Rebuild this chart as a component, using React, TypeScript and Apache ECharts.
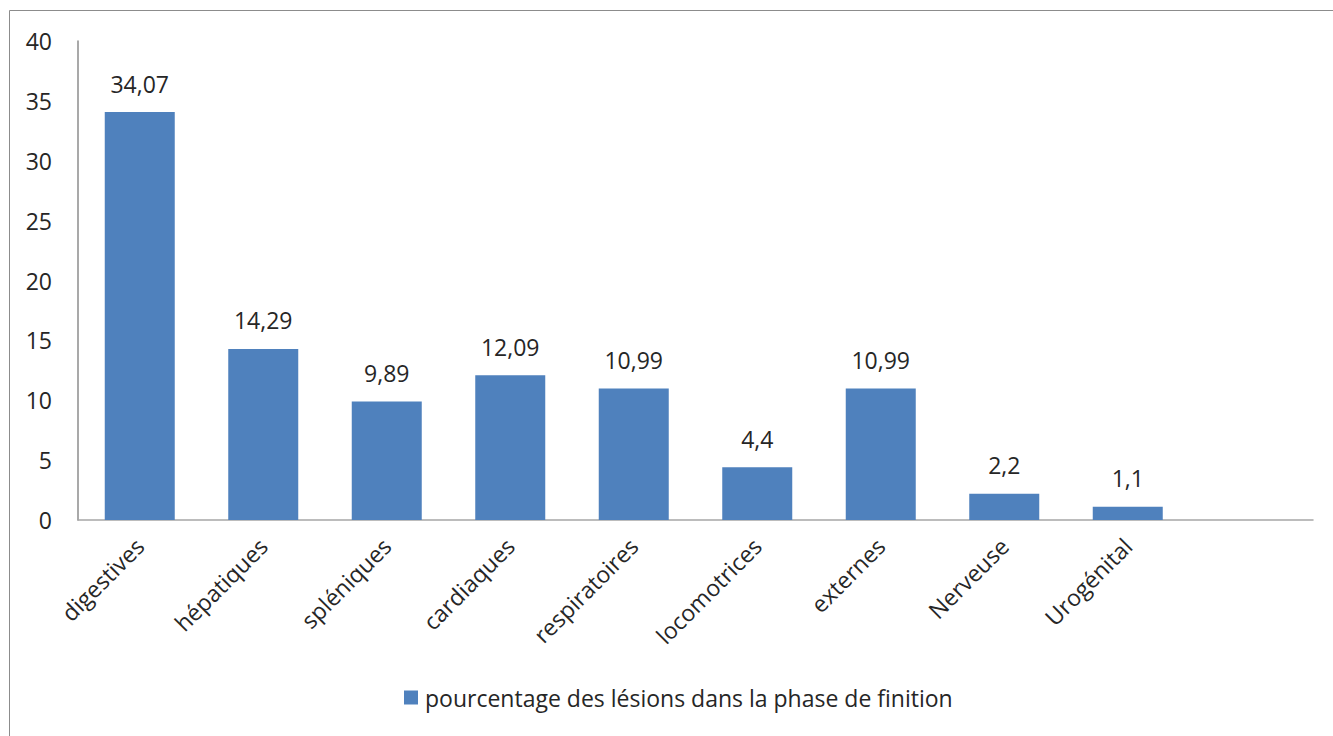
import React, { useEffect, useRef } from "react";
import * as echarts from "echarts";

const categories = [
  "digestives",
  "hépatiques",
  "spléniques",
  "cardiaques",
  "respiratoires",
  "locomotrices",
  "externes",
  "Nerveuse",
  "Urogénital",
  "",
];
const values: (number | null)[] = [34.07, 14.29, 9.89, 12.09, 10.99, 4.4, 10.99, 2.2, 1.1, null];
const seriesName = "pourcentage des lésions dans la phase de finition";
const yMin = 0;
const yMax = 40;
const yInterval = 5;

export default function App() {
  const ref = useRef<HTMLDivElement>(null);
  useEffect(() => {
    if (!ref.current) return;
    const chart = echarts.init(ref.current, null, { renderer: "svg" });
    const font = "'Open Sans', sans-serif";
    const textColor = "#262626";
    const fs = 23;
    chart.setOption({
      animation: false,
      backgroundColor: "#ffffff",
      textStyle: { fontFamily: font },
      graphic: [
        {
          type: "rect",
          shape: { x: 9.5, y: 10.5, width: 1400, height: 800 },
          style: { fill: "none", stroke: "#8c8c8c", lineWidth: 1 },
          silent: true,
        },
      ],
      grid: { left: 78, right: 20, top: 41, bottom: 216, containLabel: false },
      legend: {
        left: 404,
        top: 686,
        padding: 0,
        itemWidth: 14,
        itemHeight: 14,
        itemGap: 6,
        icon: "rect",
        textStyle: { fontFamily: font, fontSize: fs, color: textColor, padding: [0, 0, 0, 2] },
        data: [seriesName],
      },
      xAxis: {
        type: "category",
        data: categories,
        axisLine: { show: true, lineStyle: { color: "#a6a6a6", width: 1.5 } },
        axisTick: { show: false },
        axisLabel: {
          rotate: 45,
          interval: 0,
          margin: 22,
          fontFamily: font,
          fontSize: fs,
          color: textColor,
        },
      },
      yAxis: {
        type: "value",
        min: yMin,
        max: yMax,
        interval: yInterval,
        axisLine: { show: true, lineStyle: { color: "#8c8c8c", width: 1.5 } },
        axisTick: { show: false },
        splitLine: { show: false },
        axisLabel: {
          margin: 26,
          fontFamily: font,
          fontSize: fs,
          color: textColor,
        },
      },
      series: [
        {
          name: seriesName,
          type: "bar",
          data: values,
          barWidth: 70,
          itemStyle: { color: "#4f81bd" },
          label: {
            show: true,
            position: "top",
            distance: 17,
            fontFamily: font,
            fontSize: fs,
            color: textColor,
            formatter: (p: any) => String(p.value).replace(".", ","),
          },
        },
      ],
    });
    return () => chart.dispose();
  }, []);
  return (
    <div
      ref={ref}
      style={{ position: "fixed", left: 0, top: 0, width: 1333, height: 736 }}
    />
  );
}
